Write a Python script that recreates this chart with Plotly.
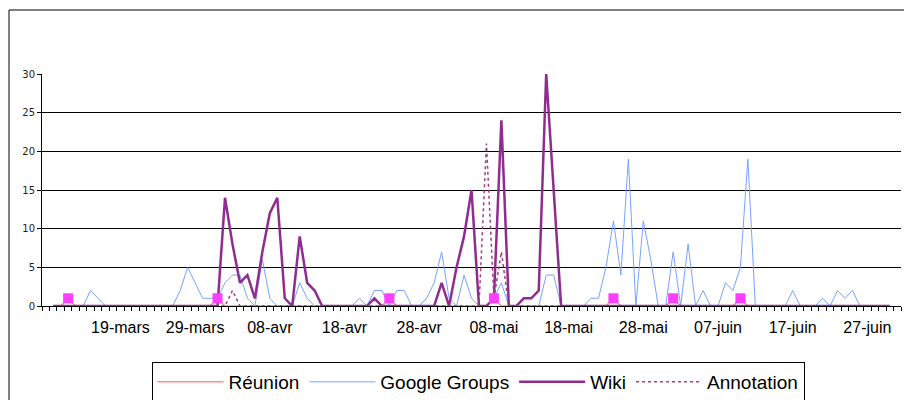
import plotly.graph_objects as go
import pandas as pd

# Categories: one per day (9 mars .. 1 juil); data from 10 mars to 30 juin
axis_start = "2009-03-08 12:00"
axis_end = "2009-07-01 12:00"
data_start = "2009-03-10"
dates = pd.date_range(data_start, periods=113, freq="D")

tick_dates = ["2009-03-19", "2009-03-29", "2009-04-08", "2009-04-18", "2009-04-28",
              "2009-05-08", "2009-05-18", "2009-05-28", "2009-06-07", "2009-06-17",
              "2009-06-27"]
tick_labels = ["19-mars", "29-mars", "08-avr", "18-avr", "28-avr", "08-mai",
               "18-mai", "28-mai", "07-juin", "17-juin", "27-juin"]

reunion = [0, 0, 1, 0, 0, 0, 0, 0, 0, 0,
           0, 0, 0, 0, 0, 0, 0, 0, 0, 0,
           0, 0, 1, 0, 0, 0, 0, 0, 0, 0,
           0, 0, 0, 0, 0, 0, 0, 0, 0, 0,
           0, 0, 0, 0, 0, 1, 0, 0, 0, 0,
           0, 0, 0, 0, 0, 0, 0, 0, 0, 1,
           0, 0, 0, 0, 0, 0, 0, 0, 0, 0,
           0, 0, 0, 0, 0, 1, 0, 0, 0, 0,
           0, 0, 0, 1, 0, 0, 0, 0, 0, 0,
           0, 0, 1, 0, 0, 0, 0, 0, 0, 0,
           0, 0, 0, 0, 0, 0, 0, 0, 0, 0,
           0, 0, 0]

google_groups = [0, 0, 0, 0, 0, 2, 1, 0, 0, 0,
                 0, 0, 0, 0, 0, 0, 0, 2, 5, 3,
                 1, 1, 1, 3, 4, 4, 1, 0, 6, 1,
                 0, 0, 0, 3, 1, 0, 0, 0, 0, 0,
                 0, 1, 0, 2, 2, 0, 2, 2, 0, 0,
                 1, 3, 7, 1, 0, 4, 1, 0, 0, 1,
                 3, 0, 0, 0, 0, 0, 4, 4, 0, 0,
                 0, 0, 1, 1, 5, 11, 4, 19, 0, 11,
                 6, 0, 0, 7, 0, 8, 0, 2, 0, 0,
                 3, 2, 5, 19, 0, 0, 0, 0, 0, 2,
                 0, 0, 0, 1, 0, 2, 1, 2, 0, 0,
                 0, 0, 0]

wiki = [0, 0, 0, 0, 0, 0, 0, 0, 0, 0,
        0, 0, 0, 0, 0, 0, 0, 0, 0, 0,
        0, 0, 0, 14, 8, 3, 4, 1, 7, 12,
        14, 1, 0, 9, 3, 2, 0, 0, 0, 0,
        0, 0, 0, 1, 0, 0, 0, 0, 0, 0,
        0, 0, 3, 0, 5, 9, 15, 0, 0, 1,
        24, 0, 0, 1, 1, 2, 30, 15, 0, 0,
        0, 0, 0, 0, 0, 0, 0, 0, 0, 0,
        0, 0, 0, 0, 0, 0, 0, 0, 0, 0,
        0, 0, 0, 0, 0, 0, 0, 0, 0, 0,
        0, 0, 0, 0, 0, 0, 0, 0, 0, 0,
        0, 0, 0]

annotation = [0, 0, 0, 0, 0, 0, 0, 0, 0, 0,
              0, 0, 0, 0, 0, 0, 0, 0, 0, 0,
              0, 0, 0, 0, 2, 0, 0, 0, 0, 0,
              0, 0, 0, 0, 0, 0, 0, 0, 0, 0,
              0, 0, 0, 0, 0, 0, 0, 0, 0, 0,
              0, 0, 0, 0, 0, 0, 0, 0, 21, 1,
              7, 0, 0, 0, 0, 0, 0, 0, 0, 0,
              0, 0, 0, 0, 0, 0, 0, 0, 0, 0,
              0, 0, 0, 0, 0, 0, 0, 0, 0, 0,
              0, 0, 0, 0, 0, 0, 0, 0, 0, 0,
              0, 0, 0, 0, 0, 0, 0, 0, 0, 0,
              0, 0, 0]

fig = go.Figure()
fig.add_trace(go.Scatter(x=dates, y=reunion, name="Réunion", mode="lines",
                         line=dict(color="#FF8C8C", width=1.5)))
fig.add_trace(go.Scatter(x=dates, y=google_groups, name="Google Groups", mode="lines",
                         line=dict(color="#78A2FF", width=1)))
fig.add_trace(go.Scatter(x=dates, y=wiki, name="Wiki", mode="lines",
                         line=dict(color="#902C90", width=2.5)))
fig.add_trace(go.Scatter(x=dates, y=annotation, name="Annotation", mode="lines",
                         line=dict(color="#A0406E", width=1.5, dash="dot")))
# Meeting markers (Réunion days)
mx = [d for d, v in zip(dates, reunion) if v > 0]
my = [v for v in reunion if v > 0]
fig.add_trace(go.Scatter(x=mx, y=my, mode="markers", showlegend=False, hoverinfo="skip",
                         marker=dict(symbol="square", size=10, color="#FF3DFF",
                                     line=dict(width=0))))

# page has an 8px body margin: figure drawn at (8, 8)
OFF = 8
W, H = 912 - OFF, 408 - 2 * OFF
L, R, T = 42 - OFF, 11, 74 - OFF
B = H - (306 - OFF)
pw, ph = W - L - R, H - T - B


def px_x(p):
    return (p - OFF - L) / pw


def px_y(p):
    return (H - B - (p - OFF)) / ph


fig.update_layout(
    width=W, height=H,
    margin=dict(l=L, r=R, t=T, b=B, pad=0, autoexpand=False),
    paper_bgcolor="white", plot_bgcolor="white",
    showlegend=True,
    legend=dict(orientation="h", x=px_x(478), xanchor="center",
                y=px_y(382), yanchor="middle", itemwidth=66,
                bordercolor="black", borderwidth=1, bgcolor="white",
                font=dict(family="Liberation Sans, Arial", size=19, color="black"),
                traceorder="normal"),
    xaxis=dict(type="date", range=[axis_start, axis_end], automargin=False,
               tickmode="array", tickvals=tick_dates, ticktext=tick_labels,
               ticks="", showgrid=False, showline=True, linecolor="black", linewidth=1,
               tickfont=dict(family="Liberation Sans, Arial", size=16, color="black"),
               ticklabelstandoff=7,
               minor=dict(ticks="outside", ticklen=4, tickcolor="black", tickwidth=1,
                          dtick=86400000, tick0=axis_start, showgrid=False)),
    yaxis=dict(range=[0, 30], dtick=5, tick0=0, showgrid=True, gridcolor="black",
               gridwidth=1, zeroline=False, showline=True, linecolor="black",
               linewidth=1, ticks="outside", ticklen=4, tickcolor="black",
               automargin=False,
               tickfont=dict(family="DejaVu Sans", size=10, color="#222")),
    shapes=[dict(type="rect", xref="paper", yref="paper",
                 x0=px_x(9), x1=px_x(910),
                 y0=px_y(440), y1=px_y(10),
                 line=dict(color="black", width=1), fillcolor="rgba(0,0,0,0)",
                 layer="below")],
)

fig.write_html("out.html")
